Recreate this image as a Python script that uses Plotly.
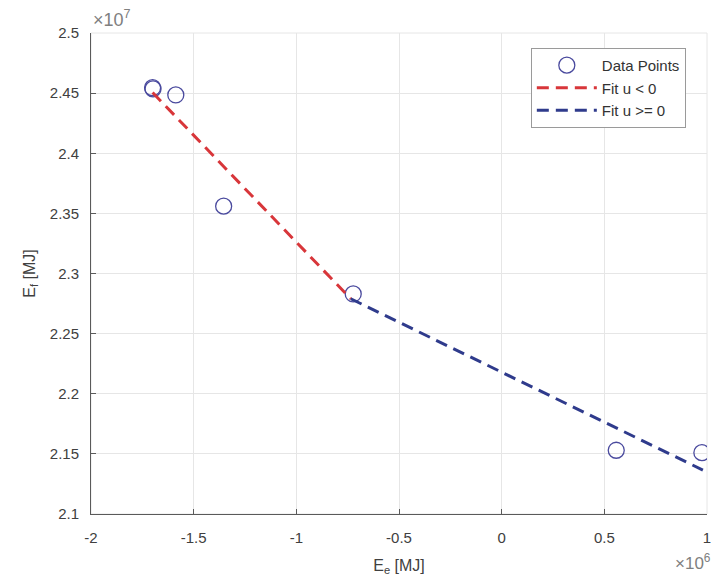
import plotly.graph_objects as go

# values (x in units of 1e6 MJ, y in units of 1e7 MJ)
e_e = [-1.700, -1.698, -1.587, -1.354, -0.723, 0.558, 0.975]
e_f = [2.4545, 2.4535, 2.4485, 2.3560, 2.2830, 2.1530, 2.1510]

# fitted segments
fit_neg_x = [-1.700, -0.735]
fit_neg_y = [2.4505, 2.2790]
fit_pos_x = [-0.735, 0.980]
fit_pos_y = [2.2790, 2.1365]

x_ticks = [-2, -1.5, -1, -0.5, 0, 0.5, 1]
x_labels = ["-2", "-1.5", "-1", "-0.5", "0", "0.5", "1"]
y_ticks = [2.1, 2.15, 2.2, 2.25, 2.3, 2.35, 2.4, 2.45, 2.5]
y_labels = ["2.1", "2.15", "2.2", "2.25", "2.3", "2.35", "2.4", "2.45", "2.5"]

FONT = "Liberation Sans, Arial, sans-serif"
TXT = "#404040"

fig = go.Figure()

fig.add_trace(go.Scatter(x=e_e, y=e_f, mode="markers", name="Data Points",
                         marker=dict(symbol="circle-open", size=16,
                                     color="#4a4a9e", line=dict(width=1.3))))
fig.add_trace(go.Scatter(x=fit_neg_x, y=fit_neg_y, mode="lines", name="Fit u < 0",
                         line=dict(color="#d8363a", width=3, dash="12px,7px")))
fig.add_trace(go.Scatter(x=fit_pos_x, y=fit_pos_y, mode="lines", name="Fit u >= 0",
                         line=dict(color="#2f3b8c", width=3, dash="12px,7px")))

axis_common = dict(showgrid=True, gridcolor="#e6e6e6", gridwidth=1,
                   zeroline=False, showline=True, linecolor="#5a5a5a", linewidth=1,
                   ticks="inside", ticklen=5, tickcolor="#5a5a5a",
                   tickfont=dict(family=FONT, size=15, color=TXT))

fig.update_xaxes(range=[-2, 1], tickvals=x_ticks, ticktext=x_labels,
                 ticklabelstandoff=10,
                 title=dict(text="E<sub>e</sub> [MJ]", standoff=14,
                            font=dict(family=FONT, size=16, color=TXT)),
                 **axis_common)
fig.update_yaxes(range=[2.1, 2.5], tickvals=y_ticks, ticktext=y_labels,
                 ticklabelstandoff=8,
                 title=dict(text="E<sub>f</sub> [MJ]", standoff=10,
                            font=dict(family=FONT, size=16, color=TXT)),
                 **axis_common)

# light frame on top / right like the matlab grid edge
fig.add_shape(type="rect", xref="paper", yref="paper", x0=0, y0=0, x1=1, y1=1,
              line=dict(color="#e6e6e6", width=1), layer="below")

fig.add_annotation(text="\u00d710<sup>7</sup>", xref="paper", yref="paper",
                   x=0, y=1.002, xanchor="left", yanchor="bottom", showarrow=False,
                   font=dict(family=FONT, size=18, color="#808080"))
fig.add_annotation(text="\u00d710<sup>6</sup>", xref="paper", yref="paper",
                   x=1.01, y=-0.072, xanchor="right", yanchor="top", showarrow=False,
                   font=dict(family=FONT, size=17, color="#808080"))

# page has an 8px body margin, so the figure is 8px smaller than the window
fig.update_layout(
    width=712, height=579,
    margin=dict(l=83, r=9, t=25, b=73),
    plot_bgcolor="white", paper_bgcolor="white",
    font=dict(family=FONT, color=TXT),
    legend=dict(x=0.714, y=0.969, xanchor="left", yanchor="top",
                bgcolor="white", bordercolor="#9a9a9a", borderwidth=1,
                font=dict(family=FONT, size=15, color="#333333"),
                itemwidth=60, tracegroupgap=0),
    showlegend=True,
)

fig.write_html("out.html")
